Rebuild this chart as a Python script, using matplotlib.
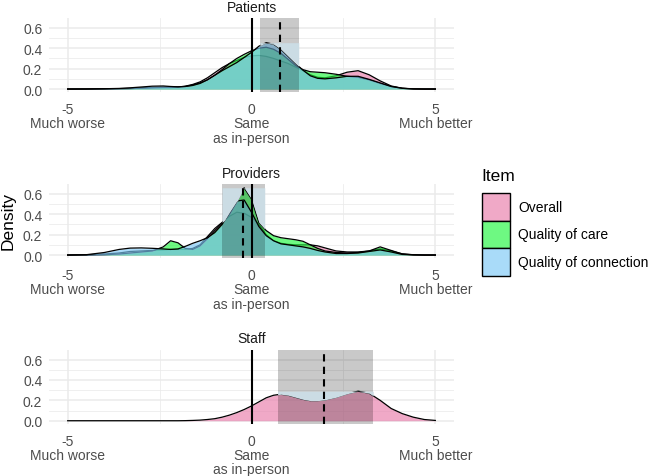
import numpy as np
import matplotlib
matplotlib.use("Agg")
import matplotlib.pyplot as plt
from matplotlib.patches import Rectangle

# Arial-like font, fallback to DejaVu
plt.rcParams["font.family"] = ["Liberation Sans", "DejaVu Sans"]

X_GRID = [-5, -4.5, -4, -3.6, -3.3, -3, -2.7, -2.4, -2.2, -2.0,
          -1.8, -1.6, -1.4, -1.2, -1.0, -0.8, -0.6, -0.4, -0.2, 0,
          0.2, 0.4, 0.6, 0.8, 1.0, 1.2, 1.4, 1.6, 1.8, 2.0,
          2.3, 2.6, 2.9, 3.2, 3.5, 3.8, 4.1, 4.4, 4.7, 5]

ITEMS = ["Overall", "Quality of care", "Quality of connection"]
ITEM_COLORS = ["#E87CAA", "#20F73F", "#7CC9F7"]
FILL_ALPHA = 0.65

# Patients
PATIENTS_OVERALL = [0, 0, 0.002, 0.004, 0.006, 0.01, 0.015, 0.018, 0.018, 0.02,
                    0.028, 0.045, 0.07, 0.11, 0.16, 0.21, 0.25, 0.28, 0.31, 0.325,
                    0.33, 0.32, 0.3, 0.275, 0.25, 0.215, 0.18, 0.14, 0.115, 0.11,
                    0.13, 0.165, 0.18, 0.14, 0.08, 0.03, 0.008, 0.002, 0, 0]
PATIENTS_CARE = [0, 0, 0.001, 0.003, 0.005, 0.008, 0.012, 0.015, 0.015, 0.018,
                 0.025, 0.04, 0.06, 0.09, 0.135, 0.19, 0.25, 0.3, 0.34, 0.375,
                 0.4, 0.41, 0.39, 0.35, 0.29, 0.23, 0.19, 0.17, 0.165, 0.16,
                 0.145, 0.125, 0.115, 0.09, 0.055, 0.025, 0.007, 0.001, 0, 0]
PATIENTS_CONNECTION = [0, 0.001, 0.003, 0.006, 0.012, 0.02, 0.028, 0.03, 0.025, 0.022,
                       0.025, 0.035, 0.055, 0.09, 0.135, 0.18, 0.22, 0.26, 0.31, 0.36,
                       0.42, 0.455, 0.44, 0.39, 0.32, 0.25, 0.185, 0.13, 0.105, 0.1,
                       0.11, 0.125, 0.125, 0.095, 0.06, 0.025, 0.007, 0.001, 0, 0]

# Providers
PROVIDERS_OVERALL = [0, 0.002, 0.01, 0.02, 0.035, 0.04, 0.045, 0.05, 0.055, 0.055,
                     0.055, 0.065, 0.1, 0.18, 0.26, 0.32, 0.38, 0.42, 0.41, 0.37,
                     0.3, 0.2, 0.14, 0.115, 0.105, 0.1, 0.1, 0.1, 0.09, 0.07,
                     0.04, 0.03, 0.03, 0.04, 0.06, 0.04, 0.012, 0.003, 0, 0]
PROVIDERS_CARE = [0, 0, 0.003, 0.01, 0.02, 0.03, 0.04, 0.08, 0.14, 0.12,
                  0.065, 0.055, 0.09, 0.16, 0.24, 0.31, 0.4, 0.52, 0.66, 0.55,
                  0.32, 0.24, 0.19, 0.17, 0.16, 0.15, 0.135, 0.1, 0.065, 0.04,
                  0.025, 0.02, 0.025, 0.04, 0.08, 0.045, 0.01, 0.002, 0, 0]
PROVIDERS_CONNECTION = [0, 0.003, 0.025, 0.055, 0.068, 0.07, 0.066, 0.06, 0.055, 0.06,
                        0.085, 0.115, 0.14, 0.17, 0.22, 0.3, 0.42, 0.53, 0.54, 0.42,
                        0.28, 0.19, 0.14, 0.11, 0.1, 0.09, 0.08, 0.065, 0.045, 0.03,
                        0.015, 0.015, 0.02, 0.035, 0.05, 0.03, 0.006, 0.001, 0, 0]

# Staff (only the overall item)
STAFF_OVERALL = [0, 0, 0, 0, 0, 0, 0, 0, 0, 0,
                 0.001, 0.003, 0.006, 0.012, 0.02, 0.035, 0.055, 0.08, 0.11, 0.145,
                 0.185, 0.225, 0.25, 0.26, 0.25, 0.23, 0.21, 0.197, 0.197, 0.205,
                 0.23, 0.265, 0.29, 0.27, 0.2, 0.12, 0.07, 0.035, 0.012, 0.003]

PANEL_TITLES = ["Patients", "Providers", "Staff"]
PANEL_SERIES = [
    [PATIENTS_OVERALL, PATIENTS_CARE, PATIENTS_CONNECTION],
    [PROVIDERS_OVERALL, PROVIDERS_CARE, PROVIDERS_CONNECTION],
    [STAFF_OVERALL, None, None],
]

# mean (dashed line) and interval (gray band) per panel
MEANS = [0.77, -0.23, 1.97]
CI_LOW = [0.23, -0.8, 0.71]
CI_HIGH = [1.285, 0.36, 3.31]

X_TICKS = [-5, 0, 5]
X_TICK_LABELS = ["-5\nMuch worse", "0\nSame\nas in-person", "5\nMuch better"]
Y_TICKS = [0, 0.2, 0.4, 0.6]
Y_TICK_LABELS = ["0.0", "0.2", "0.4", "0.6"]

FIG_W, FIG_H = 650, 477
PANEL_LEFT, PANEL_WIDTH, PANEL_HEIGHT = 49.3, 404.4, 74
PANEL_BOTTOMS = [93.4, 259.4, 425.1]  # pixel rows from the top

TEXT_GREY = "#4D4D4D"
GRID_COLOR = "#EBEBEB"
BAND_COLOR = "#CBDCE4"


def style_axis(ax, title):
    """ggplot theme_minimal look."""
    ax.set_xlim(-5.5, 5.5)
    ax.set_ylim(-0.033, 0.693)
    for side in ax.spines.values():
        side.set_visible(False)
    ax.set_xticks(X_TICKS)
    ax.set_xticklabels(X_TICK_LABELS, fontsize=10, color=TEXT_GREY, linespacing=1.02)
    ax.set_xticks([-2.5, 2.5], minor=True)
    ax.set_yticks(Y_TICKS)
    ax.set_yticklabels(Y_TICK_LABELS, fontsize=10, color=TEXT_GREY)
    ax.set_yticks([0.1, 0.3, 0.5], minor=True)
    ax.tick_params(which="both", length=0)
    ax.tick_params(axis="x", pad=7)
    ax.tick_params(axis="y", pad=5)
    ax.grid(which="major", color=GRID_COLOR, lw=1.1)
    ax.grid(which="minor", color=GRID_COLOR, lw=0.55)
    ax.set_axisbelow(True)
    ax.set_title(title, fontsize=10, color="#1A1A1A", pad=5.5)


def draw_panel(ax, series, mean, lo, hi):
    x = np.array(X_GRID)
    present = []
    for values, color in zip(series, ITEM_COLORS):
        if values is None:
            continue
        y = np.array(values)
        present.append(y)
        ax.fill_between(x, y, color=color, alpha=FILL_ALPHA, lw=0, zorder=2)
        ax.plot(x, y, color="black", lw=0.9, zorder=2)

    # gray interval band over the curves
    ax.axvspan(lo, hi, color="black", alpha=0.21, lw=0, zorder=3)

    # lighter tint inside the band up to the panel's highest density
    xs = np.linspace(lo, hi, 200)
    env = np.max([np.interp(xs, x, y) for y in present], axis=0)
    top = max(y.max() for y in present)
    ax.fill_between(xs, env, top, where=env < top, color=BAND_COLOR, lw=0, zorder=3.5)

    ax.axvline(0, color="black", lw=1.5, zorder=4)
    ax.axvline(mean, color="black", lw=1.5, ls=(0, (3.5, 2.5)), zorder=4)


def draw_legend(fig):
    """Item legend built from square keys."""
    def fx(px):
        return px / FIG_W

    def fy(px):
        return 1 - px / FIG_H

    fig.text(fx(481), fy(176.5), "Item", fontsize=12.5, va="center", ha="left")
    key = 27.5
    top = 194
    for i, (name, color) in enumerate(zip(ITEMS, ITEM_COLORS)):
        y0 = top + i * key
        box = ((fx(482), fy(y0 + key)), key / FIG_W, key / FIG_H)
        fig.add_artist(Rectangle(*box, transform=fig.transFigure,
                                 facecolor="white", edgecolor="none"))
        fig.add_artist(Rectangle(*box, transform=fig.transFigure,
                                 facecolor=color, alpha=FILL_ALPHA, edgecolor="none"))
        fig.add_artist(Rectangle(*box, transform=fig.transFigure,
                                 facecolor="none", edgecolor="black", lw=1.0))
        fig.text(fx(518), fy(y0 + key / 2), name, fontsize=10, va="center", ha="left")


def main():
    fig = plt.figure(figsize=(FIG_W / 100, FIG_H / 100), dpi=100)
    for title, series, mean, lo, hi, bottom in zip(PANEL_TITLES, PANEL_SERIES, MEANS,
                                                   CI_LOW, CI_HIGH, PANEL_BOTTOMS):
        ax = fig.add_axes([PANEL_LEFT / FIG_W, 1 - bottom / FIG_H,
                           PANEL_WIDTH / FIG_W, PANEL_HEIGHT / FIG_H])
        style_axis(ax, title)
        draw_panel(ax, series, mean, lo, hi)

    fig.text(8.5 / FIG_W, 1 - 221.5 / FIG_H, "Density", rotation=90, fontsize=12.5,
             va="center", ha="center")
    draw_legend(fig)
    fig.savefig("out.png", dpi=100, facecolor="white")


if __name__ == "__main__":
    main()
